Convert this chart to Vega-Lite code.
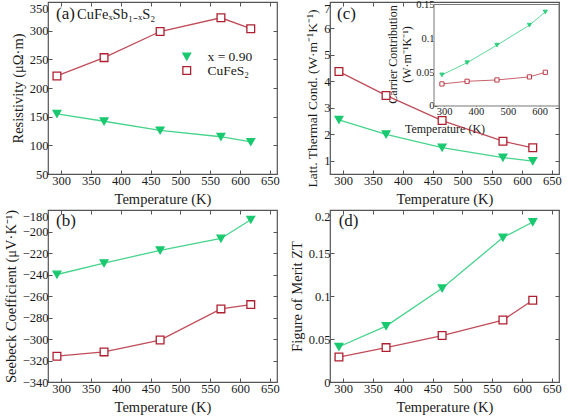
{
  "$schema": "https://vega.github.io/schema/vega-lite/v6.json",
  "background": "white",
  "padding": {"left": 2, "top": -2, "right": 1, "bottom": 2},
  "datasets": {
    "main": [
      {"T": 293, "series": "x = 0.90", "rho": 155, "S": -240, "kL": 2.55, "kc": 0.046, "ZT": 0.041},
      {"T": 372, "series": "x = 0.90", "rho": 142, "S": -229.5, "kL": 2.0, "kc": 0.064, "ZT": 0.065},
      {"T": 466, "series": "x = 0.90", "rho": 126, "S": -217.5, "kL": 1.5, "kc": 0.09, "ZT": 0.109},
      {"T": 568, "series": "x = 0.90", "rho": 115, "S": -206.5, "kL": 1.12, "kc": 0.1195, "ZT": 0.168},
      {"T": 618, "series": "x = 0.90", "rho": 106, "S": -189, "kL": 0.99, "kc": 0.139, "ZT": 0.186},
      {"T": 293, "series": "CuFeS₂", "rho": 221, "S": -316, "kL": 4.37, "kc": 0.0326, "ZT": 0.029},
      {"T": 372, "series": "CuFeS₂", "rho": 253, "S": -312, "kL": 3.47, "kc": 0.0365, "ZT": 0.04},
      {"T": 466, "series": "CuFeS₂", "rho": 298.5, "S": -301, "kL": 2.52, "kc": 0.0385, "ZT": 0.054},
      {"T": 568, "series": "CuFeS₂", "rho": 322.5, "S": -272, "kL": 1.74, "kc": 0.043, "ZT": 0.072},
      {"T": 618, "series": "CuFeS₂", "rho": 303.5, "S": -268, "kL": 1.49, "kc": 0.0498, "ZT": 0.095}
    ]
  },
  "data": {"name": "main"},
  "columns": 2,
  "spacing": {"row": 1, "column": 8},
  "concat": [
    {
      "width": 229, "height": 172,
      "resolve": {"axis": {"x": "independent", "y": "independent"}},
      "layer": [
        {"mark": {"type": "line", "strokeWidth": 1.3, "strokeOpacity": 0.8},
         "encoding": {
           "x": {"field": "T", "type": "quantitative", "scale": {"domain": [278, 662], "nice": false, "zero": false}, "axis": {"orient": "bottom", "title": "Temperature (K)", "values": [300, 350, 400, 450, 500, 550, 600, 650], "format": "d"}},
           "y": {"field": "rho", "type": "quantitative", "scale": {"domain": [50, 350], "nice": false, "zero": false}, "axis": {"orient": "left", "title": "Resistivity (μΩ·m)", "values": [50, 100, 150, 200, 250, 300, 350], "format": "d", "labelBaseline": {"condition": {"test": "datum.value == 350", "value": "top"}, "value": "middle"}}},
           "stroke": {"field": "series", "type": "nominal", "scale": {"domain": ["x = 0.90", "CuFeS₂"], "range": ["#18c96f", "#b01f2f"]}, "legend": {"title": null, "orient": "none", "legendX": 132, "legendY": 48, "labelFont": "Liberation Serif", "labelFontSize": 13.5, "labelColor": "#1a1a1a", "symbolSize": 60, "symbolStrokeWidth": 1.3, "rowPadding": 0, "clipHeight": 13, "labelOffset": 14}}
         }},
        {"mark": {"type": "point", "opacity": 1, "strokeWidth": 1.3, "size": 60},
         "encoding": {
           "x": {"field": "T", "type": "quantitative", "scale": {"domain": [278, 662], "nice": false, "zero": false}, "axis": null},
           "y": {"field": "rho", "type": "quantitative", "scale": {"domain": [50, 350], "nice": false, "zero": false}, "axis": null},
           "stroke": {"field": "series", "type": "nominal", "scale": {"domain": ["x = 0.90", "CuFeS₂"], "range": ["#18c96f", "#b01f2f"]}, "legend": {"title": null, "orient": "none", "legendX": 132, "legendY": 48, "labelFont": "Liberation Serif", "labelFontSize": 13.5, "labelColor": "#1a1a1a", "symbolSize": 60, "symbolStrokeWidth": 1.3, "rowPadding": 0, "clipHeight": 13, "labelOffset": 14}},
           "shape": {"field": "series", "type": "nominal", "scale": {"domain": ["x = 0.90", "CuFeS₂"], "range": ["triangle-down", "square"]}, "legend": {"title": null, "orient": "none", "legendX": 132, "legendY": 48, "labelFont": "Liberation Serif", "labelFontSize": 13.5, "labelColor": "#1a1a1a", "symbolSize": 60, "symbolStrokeWidth": 1.3, "rowPadding": 0, "clipHeight": 13, "labelOffset": 14}},
           "fill": {"field": "series", "type": "nominal", "scale": {"domain": ["x = 0.90", "CuFeS₂"], "range": ["#18c96f", "#ffffff"]}, "legend": {"title": null, "orient": "none", "legendX": 132, "legendY": 48, "labelFont": "Liberation Serif", "labelFontSize": 13.5, "labelColor": "#1a1a1a", "symbolSize": 60, "symbolStrokeWidth": 1.3, "rowPadding": 0, "clipHeight": 13, "labelOffset": 14}}
         }},
        {"data": {"values": [{}]},
         "mark": {"type": "text", "text": "(a)", "font": "Liberation Serif", "fontSize": 17, "align": "left", "baseline": "alphabetic", "color": "#1a1a1a"},
         "encoding": {
           "x": {"datum": 291.4, "type": "quantitative", "scale": {"domain": [278, 662], "nice": false, "zero": false}, "axis": {"orient": "top", "title": null, "labels": false, "values": [300, 350, 400, 450, 500, 550, 600, 650]}},
           "y": {"datum": 320.5, "type": "quantitative", "scale": {"domain": [50, 350], "nice": false, "zero": false}, "axis": {"orient": "right", "title": null, "labels": false, "values": [50, 100, 150, 200, 250, 300, 350]}}
         }},
        {"data": {"values": [{}]},
         "mark": {"type": "text", "text": "CuFeₓSb₁₋ₓS₂", "font": "Liberation Serif", "fontSize": 14.5, "align": "left", "baseline": "alphabetic", "color": "#1a1a1a"},
         "encoding": {
           "x": {"datum": 326.6, "type": "quantitative", "scale": {"domain": [278, 662], "nice": false, "zero": false}, "axis": null},
           "y": {"datum": 320.5, "type": "quantitative", "scale": {"domain": [50, 350], "nice": false, "zero": false}, "axis": null}
         }}
      ]
    },
    {
      "width": 229, "height": 172,
      "resolve": {"scale": {"x": "independent", "y": "independent"}},
      "layer": [
        {
          "resolve": {"axis": {"x": "independent", "y": "independent"}},
          "layer": [
            {"mark": {"type": "line", "strokeWidth": 1.3, "strokeOpacity": 0.8},
             "encoding": {
               "x": {"field": "T", "type": "quantitative", "scale": {"domain": [278, 662], "nice": false, "zero": false}, "axis": {"orient": "bottom", "title": "Temperature (K)", "values": [300, 350, 400, 450, 500, 550, 600, 650], "format": "d"}},
               "y": {"field": "kL", "type": "quantitative", "scale": {"domain": [0.5, 7], "nice": false, "zero": false}, "axis": {"orient": "left", "title": "Latt. Thermal Cond. (W·m⁻¹K⁻¹)", "titleFontSize": 13.5, "titleY": 96, "values": [1, 2, 3, 4, 5, 6, 7], "format": "d", "labelBaseline": {"condition": {"test": "datum.value == 7", "value": "top"}, "value": "middle"}}},
               "stroke": {"field": "series", "type": "nominal", "scale": {"domain": ["x = 0.90", "CuFeS₂"], "range": ["#18c96f", "#b01f2f"]}, "legend": {"title": null, "orient": "none", "legendX": 132, "legendY": 48, "labelFont": "Liberation Serif", "labelFontSize": 13.5, "labelColor": "#1a1a1a", "symbolSize": 60, "symbolStrokeWidth": 1.3, "rowPadding": 0, "clipHeight": 13, "labelOffset": 14}}
             }},
            {"mark": {"type": "point", "opacity": 1, "strokeWidth": 1.3, "size": 60},
             "encoding": {
               "x": {"field": "T", "type": "quantitative", "scale": {"domain": [278, 662], "nice": false, "zero": false}, "axis": null},
               "y": {"field": "kL", "type": "quantitative", "scale": {"domain": [0.5, 7], "nice": false, "zero": false}, "axis": null},
               "stroke": {"field": "series", "type": "nominal", "scale": {"domain": ["x = 0.90", "CuFeS₂"], "range": ["#18c96f", "#b01f2f"]}, "legend": {"title": null, "orient": "none", "legendX": 132, "legendY": 48, "labelFont": "Liberation Serif", "labelFontSize": 13.5, "labelColor": "#1a1a1a", "symbolSize": 60, "symbolStrokeWidth": 1.3, "rowPadding": 0, "clipHeight": 13, "labelOffset": 14}},
               "shape": {"field": "series", "type": "nominal", "scale": {"domain": ["x = 0.90", "CuFeS₂"], "range": ["triangle-down", "square"]}, "legend": {"title": null, "orient": "none", "legendX": 132, "legendY": 48, "labelFont": "Liberation Serif", "labelFontSize": 13.5, "labelColor": "#1a1a1a", "symbolSize": 60, "symbolStrokeWidth": 1.3, "rowPadding": 0, "clipHeight": 13, "labelOffset": 14}},
               "fill": {"field": "series", "type": "nominal", "scale": {"domain": ["x = 0.90", "CuFeS₂"], "range": ["#18c96f", "#ffffff"]}, "legend": {"title": null, "orient": "none", "legendX": 132, "legendY": 48, "labelFont": "Liberation Serif", "labelFontSize": 13.5, "labelColor": "#1a1a1a", "symbolSize": 60, "symbolStrokeWidth": 1.3, "rowPadding": 0, "clipHeight": 13, "labelOffset": 14}}
             }},
            {"data": {"values": [{}]},
             "mark": {"type": "text", "text": "(c)", "font": "Liberation Serif", "fontSize": 17, "align": "left", "baseline": "alphabetic", "color": "#1a1a1a"},
             "encoding": {
               "x": {"datum": 289.7, "type": "quantitative", "scale": {"domain": [278, 662], "nice": false, "zero": false}, "axis": {"orient": "top", "title": null, "labels": false, "values": [300, 350, 400]}},
               "y": {"datum": 6.34, "type": "quantitative", "scale": {"domain": [0.5, 7], "nice": false, "zero": false}, "axis": {"orient": "right", "title": null, "labels": false, "values": [1, 2, 3, 4, 5, 6, 7]}}
             }}
          ]
        },
        {
          "layer": [
            {"data": {"values": [{}]},
             "mark": {"type": "rect", "fill": "white", "stroke": "#777777", "strokeWidth": 1},
             "encoding": {
               "x": {"datum": 268, "type": "quantitative", "scale": {"domain": [-59, 661], "nice": false, "zero": false}, "axis": {"orient": "bottom", "offset": -68, "title": "Temperature (K)", "values": [300, 400, 500, 600], "format": "d", "titleFontSize": 12, "labelFontSize": 10.5, "tickSize": -3, "labelPadding": 3, "titlePadding": 7}},
               "x2": {"datum": 661},
               "y": {"datum": 0, "type": "quantitative", "scale": {"domain": [-0.1005, 0.1537], "nice": false, "zero": false}, "axis": {"orient": "left", "offset": -104, "title": ["Carrier Contribution", "(W·m⁻¹K⁻¹)"], "values": [0, 0.05, 0.1, 0.15], "format": "~g", "titleFontSize": 12, "labelFontSize": 10.5, "tickSize": -3, "labelPadding": 3, "titlePadding": 2, "titleY": 52}},
               "y2": {"datum": 0.15}
             }},
            {"mark": {"type": "line", "strokeWidth": 1, "strokeOpacity": 0.7},
             "encoding": {
               "x": {"field": "T", "type": "quantitative", "scale": {"domain": [-59, 661], "nice": false, "zero": false}, "axis": {"orient": "bottom", "offset": -68, "title": "Temperature (K)", "values": [300, 400, 500, 600], "format": "d", "titleFontSize": 12, "labelFontSize": 10.5, "tickSize": -3, "labelPadding": 3, "titlePadding": 7}},
               "y": {"field": "kc", "type": "quantitative", "scale": {"domain": [-0.1005, 0.1537], "nice": false, "zero": false}, "axis": {"orient": "left", "offset": -104, "title": ["Carrier Contribution", "(W·m⁻¹K⁻¹)"], "values": [0, 0.05, 0.1, 0.15], "format": "~g", "titleFontSize": 12, "labelFontSize": 10.5, "tickSize": -3, "labelPadding": 3, "titlePadding": 2, "titleY": 52}},
               "stroke": {"field": "series", "type": "nominal", "scale": {"domain": ["x = 0.90", "CuFeS₂"], "range": ["#18c96f", "#b01f2f"]}, "legend": {"title": null, "orient": "none", "legendX": 132, "legendY": 48, "labelFont": "Liberation Serif", "labelFontSize": 13.5, "labelColor": "#1a1a1a", "symbolSize": 60, "symbolStrokeWidth": 1.3, "rowPadding": 0, "clipHeight": 13, "labelOffset": 14}}
             }},
            {"mark": {"type": "point", "opacity": 0.85, "strokeWidth": 1, "size": 18},
             "encoding": {
               "x": {"field": "T", "type": "quantitative", "scale": {"domain": [-59, 661], "nice": false, "zero": false}, "axis": {"orient": "bottom", "offset": -68, "title": "Temperature (K)", "values": [300, 400, 500, 600], "format": "d", "titleFontSize": 12, "labelFontSize": 10.5, "tickSize": -3, "labelPadding": 3, "titlePadding": 7}},
               "y": {"field": "kc", "type": "quantitative", "scale": {"domain": [-0.1005, 0.1537], "nice": false, "zero": false}, "axis": {"orient": "left", "offset": -104, "title": ["Carrier Contribution", "(W·m⁻¹K⁻¹)"], "values": [0, 0.05, 0.1, 0.15], "format": "~g", "titleFontSize": 12, "labelFontSize": 10.5, "tickSize": -3, "labelPadding": 3, "titlePadding": 2, "titleY": 52}},
               "stroke": {"field": "series", "type": "nominal", "scale": {"domain": ["x = 0.90", "CuFeS₂"], "range": ["#18c96f", "#b01f2f"]}, "legend": {"title": null, "orient": "none", "legendX": 132, "legendY": 48, "labelFont": "Liberation Serif", "labelFontSize": 13.5, "labelColor": "#1a1a1a", "symbolSize": 60, "symbolStrokeWidth": 1.3, "rowPadding": 0, "clipHeight": 13, "labelOffset": 14}},
               "shape": {"field": "series", "type": "nominal", "scale": {"domain": ["x = 0.90", "CuFeS₂"], "range": ["triangle-down", "square"]}, "legend": {"title": null, "orient": "none", "legendX": 132, "legendY": 48, "labelFont": "Liberation Serif", "labelFontSize": 13.5, "labelColor": "#1a1a1a", "symbolSize": 60, "symbolStrokeWidth": 1.3, "rowPadding": 0, "clipHeight": 13, "labelOffset": 14}},
               "fill": {"field": "series", "type": "nominal", "scale": {"domain": ["x = 0.90", "CuFeS₂"], "range": ["#18c96f", "#ffffff"]}, "legend": {"title": null, "orient": "none", "legendX": 132, "legendY": 48, "labelFont": "Liberation Serif", "labelFontSize": 13.5, "labelColor": "#1a1a1a", "symbolSize": 60, "symbolStrokeWidth": 1.3, "rowPadding": 0, "clipHeight": 13, "labelOffset": 14}}
             }}
          ]
        }
      ]
    },
    {
      "width": 229, "height": 172,
      "resolve": {"axis": {"x": "independent", "y": "independent"}},
      "layer": [
        {"mark": {"type": "line", "strokeWidth": 1.3, "strokeOpacity": 0.8},
         "encoding": {
           "x": {"field": "T", "type": "quantitative", "scale": {"domain": [278, 662], "nice": false, "zero": false}, "axis": {"orient": "bottom", "title": "Temperature (K)", "values": [300, 350, 400, 450, 500, 550, 600, 650], "format": "d"}},
           "y": {"field": "S", "type": "quantitative", "scale": {"domain": [-340, -180], "nice": false, "zero": false}, "axis": {"orient": "left", "title": "Seebeck Coefficient (μV·K⁻¹)", "values": [-340, -320, -300, -280, -260, -240, -220, -200, -180], "format": "d", "labelBaseline": {"condition": {"test": "datum.value == -180", "value": "top"}, "value": "middle"}}},
           "stroke": {"field": "series", "type": "nominal", "scale": {"domain": ["x = 0.90", "CuFeS₂"], "range": ["#18c96f", "#b01f2f"]}, "legend": {"title": null, "orient": "none", "legendX": 132, "legendY": 48, "labelFont": "Liberation Serif", "labelFontSize": 13.5, "labelColor": "#1a1a1a", "symbolSize": 60, "symbolStrokeWidth": 1.3, "rowPadding": 0, "clipHeight": 13, "labelOffset": 14}}
         }},
        {"mark": {"type": "point", "opacity": 1, "strokeWidth": 1.3, "size": 60},
         "encoding": {
           "x": {"field": "T", "type": "quantitative", "scale": {"domain": [278, 662], "nice": false, "zero": false}, "axis": null},
           "y": {"field": "S", "type": "quantitative", "scale": {"domain": [-340, -180], "nice": false, "zero": false}, "axis": null},
           "stroke": {"field": "series", "type": "nominal", "scale": {"domain": ["x = 0.90", "CuFeS₂"], "range": ["#18c96f", "#b01f2f"]}, "legend": {"title": null, "orient": "none", "legendX": 132, "legendY": 48, "labelFont": "Liberation Serif", "labelFontSize": 13.5, "labelColor": "#1a1a1a", "symbolSize": 60, "symbolStrokeWidth": 1.3, "rowPadding": 0, "clipHeight": 13, "labelOffset": 14}},
           "shape": {"field": "series", "type": "nominal", "scale": {"domain": ["x = 0.90", "CuFeS₂"], "range": ["triangle-down", "square"]}, "legend": {"title": null, "orient": "none", "legendX": 132, "legendY": 48, "labelFont": "Liberation Serif", "labelFontSize": 13.5, "labelColor": "#1a1a1a", "symbolSize": 60, "symbolStrokeWidth": 1.3, "rowPadding": 0, "clipHeight": 13, "labelOffset": 14}},
           "fill": {"field": "series", "type": "nominal", "scale": {"domain": ["x = 0.90", "CuFeS₂"], "range": ["#18c96f", "#ffffff"]}, "legend": {"title": null, "orient": "none", "legendX": 132, "legendY": 48, "labelFont": "Liberation Serif", "labelFontSize": 13.5, "labelColor": "#1a1a1a", "symbolSize": 60, "symbolStrokeWidth": 1.3, "rowPadding": 0, "clipHeight": 13, "labelOffset": 14}}
         }},
        {"data": {"values": [{}]},
         "mark": {"type": "text", "text": "(b)", "font": "Liberation Serif", "fontSize": 17, "align": "left", "baseline": "alphabetic", "color": "#1a1a1a"},
         "encoding": {
           "x": {"datum": 291.4, "type": "quantitative", "scale": {"domain": [278, 662], "nice": false, "zero": false}, "axis": {"orient": "top", "title": null, "labels": false, "values": [300, 350, 400, 450, 500, 550, 600, 650]}},
           "y": {"datum": -194.6, "type": "quantitative", "scale": {"domain": [-340, -180], "nice": false, "zero": false}, "axis": {"orient": "right", "title": null, "labels": false, "values": [-340, -320, -300, -280, -260, -240, -220, -200, -180]}}
         }}
      ]
    },
    {
      "width": 229, "height": 172,
      "resolve": {"axis": {"x": "independent", "y": "independent"}},
      "layer": [
        {"mark": {"type": "line", "strokeWidth": 1.3, "strokeOpacity": 0.8},
         "encoding": {
           "x": {"field": "T", "type": "quantitative", "scale": {"domain": [278, 662], "nice": false, "zero": false}, "axis": {"orient": "bottom", "title": "Temperature (K)", "values": [300, 350, 400, 450, 500, 550, 600, 650], "format": "d"}},
           "y": {"field": "ZT", "type": "quantitative", "scale": {"domain": [0, 0.2], "nice": false, "zero": false}, "axis": {"orient": "left", "title": "Figure of Merit ZT", "values": [0, 0.05, 0.1, 0.15, 0.2], "format": "~g", "labelBaseline": {"condition": {"test": "datum.value == 0.2", "value": "top"}, "value": "middle"}}},
           "stroke": {"field": "series", "type": "nominal", "scale": {"domain": ["x = 0.90", "CuFeS₂"], "range": ["#18c96f", "#b01f2f"]}, "legend": {"title": null, "orient": "none", "legendX": 132, "legendY": 48, "labelFont": "Liberation Serif", "labelFontSize": 13.5, "labelColor": "#1a1a1a", "symbolSize": 60, "symbolStrokeWidth": 1.3, "rowPadding": 0, "clipHeight": 13, "labelOffset": 14}}
         }},
        {"mark": {"type": "point", "opacity": 1, "strokeWidth": 1.3, "size": 60},
         "encoding": {
           "x": {"field": "T", "type": "quantitative", "scale": {"domain": [278, 662], "nice": false, "zero": false}, "axis": null},
           "y": {"field": "ZT", "type": "quantitative", "scale": {"domain": [0, 0.2], "nice": false, "zero": false}, "axis": null},
           "stroke": {"field": "series", "type": "nominal", "scale": {"domain": ["x = 0.90", "CuFeS₂"], "range": ["#18c96f", "#b01f2f"]}, "legend": {"title": null, "orient": "none", "legendX": 132, "legendY": 48, "labelFont": "Liberation Serif", "labelFontSize": 13.5, "labelColor": "#1a1a1a", "symbolSize": 60, "symbolStrokeWidth": 1.3, "rowPadding": 0, "clipHeight": 13, "labelOffset": 14}},
           "shape": {"field": "series", "type": "nominal", "scale": {"domain": ["x = 0.90", "CuFeS₂"], "range": ["triangle-down", "square"]}, "legend": {"title": null, "orient": "none", "legendX": 132, "legendY": 48, "labelFont": "Liberation Serif", "labelFontSize": 13.5, "labelColor": "#1a1a1a", "symbolSize": 60, "symbolStrokeWidth": 1.3, "rowPadding": 0, "clipHeight": 13, "labelOffset": 14}},
           "fill": {"field": "series", "type": "nominal", "scale": {"domain": ["x = 0.90", "CuFeS₂"], "range": ["#18c96f", "#ffffff"]}, "legend": {"title": null, "orient": "none", "legendX": 132, "legendY": 48, "labelFont": "Liberation Serif", "labelFontSize": 13.5, "labelColor": "#1a1a1a", "symbolSize": 60, "symbolStrokeWidth": 1.3, "rowPadding": 0, "clipHeight": 13, "labelOffset": 14}}
         }},
        {"data": {"values": [{}]},
         "mark": {"type": "text", "text": "(d)", "font": "Liberation Serif", "fontSize": 17, "align": "left", "baseline": "alphabetic", "color": "#1a1a1a"},
         "encoding": {
           "x": {"datum": 292.6, "type": "quantitative", "scale": {"domain": [278, 662], "nice": false, "zero": false}, "axis": {"orient": "top", "title": null, "labels": false, "values": [300, 350, 400, 450, 500, 550, 600, 650]}},
           "y": {"datum": 0.1817, "type": "quantitative", "scale": {"domain": [0, 0.2], "nice": false, "zero": false}, "axis": {"orient": "right", "title": null, "labels": false, "values": [0, 0.05, 0.1, 0.15, 0.2]}}
         }}
      ]
    }
  ],
  "config": {
    "font": "Liberation Serif",
    "view": {"stroke": "#555555", "strokeWidth": 1.2},
    "axis": {
      "grid": false, "domain": false,
      "labelFont": "Liberation Serif", "titleFont": "Liberation Serif",
      "labelFontSize": 12.5, "titleFontSize": 14.5, "titleFontWeight": "normal",
      "labelColor": "#1a1a1a", "titleColor": "#1a1a1a",
      "tickColor": "#555555", "tickSize": -4, "tickWidth": 1,
      "labelPadding": 4, "titlePadding": 4, "labelFlush": false, "labelOverlap": false
    },
    "axisX": {"titlePadding": 6}
  }
}
